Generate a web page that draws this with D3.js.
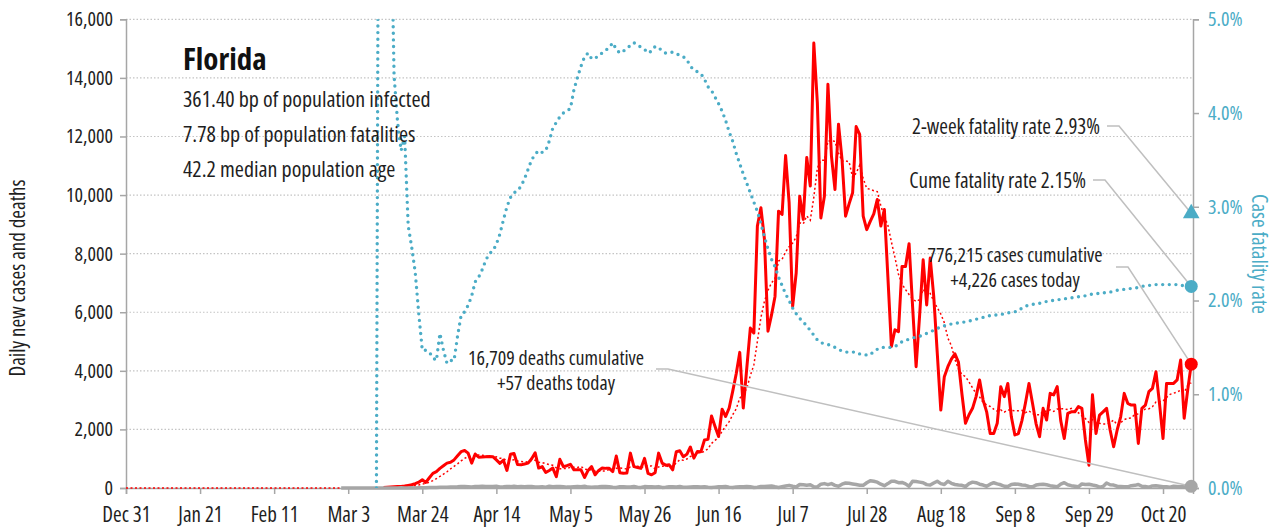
<!DOCTYPE html>
<html>
<head>
<meta charset="utf-8">
<script src="https://cdn.jsdelivr.net/npm/d3@7"></script>
<style>
  body { margin: 0; background: #fff; }
  svg { display: block; }
  svg text { font-family: "Open Sans", "Roboto", sans-serif; font-stretch: condensed; }
</style>
</head>
<body>
<svg id="chart" width="1278" height="527"></svg>
<script>
// ---- data ----
const firstDay = new Date(2019, 11, 31);
const lastDay = new Date(2020, 9, 28);

// daily new cases, from Mar 13 2020
const caseStart = new Date(2020, 2, 13);
const cases = [
  16, 22, 30, 40, 50, 55, 70, 90,
  110, 150, 200, 280, 190, 350, 500, 560, 670, 760,
  850, 880, 960, 1100, 1240, 1280, 1190, 850, 1160, 1050,
  1060, 1070, 1075, 1070, 960, 840, 950, 600, 1150, 1180,
  800, 790, 820, 850, 1000, 1200, 680, 730, 530, 600,
  680, 390, 980, 730, 760, 810, 620, 620, 620, 360,
  600, 730, 450, 600, 680, 670, 670, 560, 1090, 520,
  500, 510, 1190, 730, 700, 670, 1010, 500, 450, 520,
  1190, 850, 780, 790, 620, 1240, 1270, 1070, 1150, 1400,
  1020, 1250, 1240, 1640, 1660, 2460, 2100, 1760, 2690, 2440,
  2730, 3300, 3900, 4630, 2730, 4100, 5460, 5290, 8940, 9570,
  8500, 5350, 5900, 6540, 9450, 9340, 11350, 9740, 6200, 7340,
  9960, 9170, 11280, 10310, 15190, 13160, 9220, 9960, 13780, 11330,
  10190, 12420, 11220, 9280, 9700, 10080, 12340, 12070, 9280, 8820,
  9100, 9360, 9850, 8940, 9510, 7200, 4830, 5400, 5340, 7560,
  7560, 8340, 6200, 4140, 5900, 7790, 6250, 7850, 6540, 4600,
  2660, 3800, 4140, 4400, 4580, 4300, 3200, 2210, 2500, 2720,
  3120, 3690, 3000, 2600, 1860, 1860, 2210, 3460, 3120, 3570,
  2430, 1810, 1860, 2300, 2900, 3570, 2890, 2200, 1750, 2720,
  2320, 3230, 3180, 3460, 2300, 1690, 2550, 2600, 2600, 2780,
  2720, 1640, 780, 3180, 1860, 2490, 2600, 2720, 1980, 1410,
  1980, 2430, 3230, 2890, 2830, 2830, 1520, 2720, 2830, 3290,
  3400, 3970, 2890, 1690, 3570, 3570, 3570, 3690, 4370, 2380,
  3350, 4226
];

// daily deaths, from Mar 1 2020
const deathStart = new Date(2020, 2, 1);
const deaths = [
  0, 0, 0, 0, 0, 2, 0, 0, 0, 0,
  1, 2, 1, 3, 2, 0, 4, 5, 3, 4,
  8, 4, 10, 7, 12, 14, 18, 20, 22, 25,
  27, 30, 35, 40, 48, 52, 45, 38, 55, 50,
  60, 50, 48, 55, 58, 38, 40, 52, 47, 60,
  45, 52, 40, 55, 50, 38, 35, 40, 30, 60,
  45, 48, 52, 40, 30, 36, 42, 50, 45, 60,
  30, 25, 38, 40, 55, 48, 41, 28, 20, 44,
  46, 37, 38, 50, 25, 20, 48, 42, 45, 38,
  47, 20, 25, 45, 41, 36, 49, 28, 25, 35,
  40, 42, 38, 46, 25, 15, 30, 45, 40, 48,
  30, 20, 35, 40, 44, 50, 45, 20, 25, 50,
  48, 60, 68, 40, 20, 45, 70, 90, 60, 35,
  120, 110, 95, 110, 45, 35, 130, 150, 115, 150,
  90, 60, 130, 170, 160, 140, 120, 95, 90, 180,
  250, 230, 200, 130, 80, 150, 230, 230, 180, 190,
  140, 60, 230, 220, 200, 180, 115, 100, 170, 230,
  150, 120, 230, 160, 120, 100, 90, 50, 150, 200,
  180, 130, 100, 60, 130, 180, 140, 110, 60, 50,
  120, 140, 130, 100, 90, 50, 40, 100, 120, 130,
  110, 80, 60, 40, 130, 180, 110, 80, 60, 40,
  140, 120, 130, 100, 80, 30, 50, 170, 110, 100,
  60, 50, 40, 40, 80, 90, 120, 60, 50, 30,
  70, 80, 60, 40, 45, 30, 60, 50, 40, 60,
  90, 57
];

// cumulative case fatality rate (%), from Mar 11 2020
const rateStart = new Date(2020, 2, 11);
const rates = [
  0, 12, 10, 8, 6.5, 4.4, 3.9, 3.6, 3.75, 2.8,
  2.57, 2.3, 1.86, 1.47, 1.47, 1.45, 1.39, 1.36, 1.65, 1.47,
  1.33, 1.36, 1.36, 1.62, 1.84, 1.88, 1.95, 2.05, 2.2, 2.25,
  2.33, 2.43, 2.5, 2.53, 2.6, 2.71, 2.86, 3.0, 3.1, 3.15,
  3.17, 3.22, 3.3, 3.4, 3.5, 3.56, 3.6, 3.58, 3.6, 3.7,
  3.84, 3.9, 3.96, 4.0, 4.02, 4.05, 4.25, 4.38, 4.5, 4.6,
  4.64, 4.58, 4.58, 4.62, 4.64, 4.67, 4.7, 4.75, 4.68, 4.64,
  4.66, 4.69, 4.72, 4.75, 4.73, 4.7, 4.68, 4.64, 4.66, 4.71,
  4.7, 4.66, 4.64, 4.64, 4.65, 4.63, 4.62, 4.6, 4.57, 4.5,
  4.46, 4.44, 4.42, 4.36, 4.28, 4.24, 4.17, 4.1, 4.02, 3.92,
  3.8, 3.7, 3.57, 3.46, 3.35, 3.25, 3.15, 3.05, 2.95, 2.82,
  2.68, 2.55, 2.44, 2.36, 2.25, 2.16, 2.07, 2.0, 1.92, 1.86,
  1.81, 1.77, 1.73, 1.68, 1.63, 1.58, 1.55, 1.54, 1.53, 1.52,
  1.5, 1.48, 1.46, 1.45, 1.45, 1.45, 1.45, 1.43, 1.42, 1.42,
  1.42, 1.46, 1.48, 1.5, 1.5, 1.5, 1.5, 1.51, 1.53, 1.56,
  1.57, 1.59, 1.6, 1.61, 1.62, 1.63, 1.65, 1.67, 1.68, 1.7,
  1.72, 1.73, 1.74, 1.75, 1.76, 1.76, 1.77, 1.77, 1.78, 1.79,
  1.8, 1.81, 1.82, 1.83, 1.84, 1.84, 1.85, 1.85, 1.86, 1.87,
  1.87, 1.88, 1.89, 1.92, 1.94, 1.95, 1.96, 1.96, 1.97, 1.98,
  1.99, 2.0, 2.0, 2.01, 2.01, 2.02, 2.02, 2.03, 2.03, 2.04,
  2.05, 2.05, 2.06, 2.07, 2.07, 2.08, 2.08, 2.09, 2.09, 2.1,
  2.11, 2.11, 2.12, 2.12, 2.13, 2.13, 2.14, 2.15, 2.16, 2.16,
  2.17, 2.17, 2.17, 2.17, 2.17, 2.17, 2.17, 2.17, 2.16, 2.16,
  2.15, 2.15
];

const twoWeekRate = 2.93;
const yTicks = [0, 2000, 4000, 6000, 8000, 10000, 12000, 14000, 16000];
const rateTicks = [0, 1, 2, 3, 4, 5];
const xTickDates = ["2019-12-31", "2020-01-21", "2020-02-11", "2020-03-03", "2020-03-24",
  "2020-04-14", "2020-05-05", "2020-05-26", "2020-06-16", "2020-07-07", "2020-07-28",
  "2020-08-18", "2020-09-08", "2020-09-29", "2020-10-20"];

const stateName = "Florida";
const infoLines = ["361.40 bp of population infected", "7.78 bp of population fatalities", "42.2 median population age"];
const caseNote = ["776,215 cases cumulative", "+4,226 cases today"];
const deathNote = ["16,709 deaths cumulative", "+57 deaths today"];
const cumeNote = "Cume fatality rate 2.15%";
const twoWeekNote = "2-week fatality rate 2.93%";

// ---- layout ----
const plotL = 126, plotR = 1193, plotT = 19.3, plotB = 488;
const red = "#ff0000", teal = "#4bacc6", grey = "#a6a6a6", ink = "#1e1e1e";

const svg = d3.select("#chart");
const parse = d3.timeParse("%Y-%m-%d");
const dayOf = (start, i) => d3.timeDay.offset(start, i);

const x = d3.scaleTime()
  .domain([firstDay, d3.timeHour.offset(lastDay, 12)])
  .range([plotL, plotR]);
const y = d3.scaleLinear().domain([0, 16000]).range([plotB, plotT]);
const yR = d3.scaleLinear().domain([0, 5]).range([plotB, plotT]);

const caseData = cases.map((v, i) => ({ date: dayOf(caseStart, i), v }));
const deathData = deaths.map((v, i) => ({ date: dayOf(deathStart, i), v }));
const rateData = rates.map((v, i) => ({ date: dayOf(rateStart, i), v }));

// trailing 7-day mean of the daily cases above (zero before the first case)
const caseOn = d => {
  const i = d3.timeDay.count(caseStart, d);
  return i >= 0 && i < cases.length ? cases[i] : 0;
};
const avgData = d3.timeDay.range(firstDay, d3.timeDay.offset(lastDay, 1)).map(d => ({
  date: d,
  v: d3.mean(d3.range(7), k => caseOn(d3.timeDay.offset(d, -k)))
}));

svg.append("defs").append("clipPath").attr("id", "plot")
  .append("rect").attr("x", plotL).attr("y", plotT).attr("width", plotR - plotL).attr("height", plotB - plotT);

// grid
svg.append("g")
  .selectAll("line")
  .data(yTicks.filter(t => t > 0))
  .join("line")
  .attr("x1", plotL).attr("x2", plotR)
  .attr("y1", d => y(d)).attr("y2", d => y(d))
  .attr("stroke", "#c4c4c4").attr("stroke-width", 1.2)
  .attr("stroke-dasharray", "1.5 2");

// axes
const yAxis = svg.append("g")
  .attr("transform", `translate(${plotL},0)`)
  .call(d3.axisLeft(y).tickValues(yTicks).tickFormat(d3.format(",")).tickSize(6).tickPadding(7));
const rAxis = svg.append("g")
  .attr("transform", `translate(${plotR},0)`)
  .call(d3.axisRight(yR).tickValues(rateTicks).tickFormat(d => d.toFixed(1) + "%").tickSize(6).tickPadding(9));
const xAxis = svg.append("g")
  .attr("transform", `translate(0,${plotB})`)
  .call(d3.axisBottom(x).tickValues(xTickDates.map(parse)).tickFormat(d3.timeFormat("%b %-d")).tickSize(6).tickPadding(13));

[yAxis, rAxis, xAxis].forEach(g => {
  g.select(".domain").attr("stroke", grey).attr("stroke-width", 1.5);
  g.selectAll(".tick line").attr("stroke", grey).attr("stroke-width", 1.5);
  g.selectAll("text").attr("font-size", 20).attr("fill", ink);
});
xAxis.selectAll("text").attr("font-size", 21);
rAxis.selectAll("text").attr("fill", teal);

// axis titles
svg.append("text")
  .attr("transform", "translate(25,278) rotate(-90)")
  .attr("text-anchor", "middle").attr("font-size", 21).attr("fill", ink)
  .text("Daily new cases and deaths");
svg.append("text")
  .attr("transform", "translate(1252,254) rotate(90)")
  .attr("text-anchor", "middle").attr("font-size", 21).attr("fill", teal)
  .text("Case fatality rate");

const line = sc => d3.line().x(d => x(d.date)).y(d => sc(d.v));

// 7-day average (dotted red)
svg.append("path").datum(avgData)
  .attr("d", line(y)).attr("fill", "none")
  .attr("stroke", red).attr("stroke-width", 1.5).attr("stroke-dasharray", "2 2.5");

// daily cases
svg.append("path").datum(caseData)
  .attr("d", line(y)).attr("fill", "none")
  .attr("stroke", red).attr("stroke-width", 3).attr("stroke-linejoin", "round");

// daily deaths
svg.append("path").datum(deathData)
  .attr("d", line(y)).attr("fill", "none")
  .attr("stroke", grey).attr("stroke-width", 3.5).attr("stroke-linejoin", "round");

// fatality rate (dotted teal, right axis)
svg.append("path").datum(rateData)
  .attr("clip-path", "url(#plot)")
  .attr("d", line(yR)).attr("fill", "none")
  .attr("stroke", teal).attr("stroke-width", 3.4)
  .attr("stroke-linecap", "round").attr("stroke-dasharray", "0 6.6");

// info block
svg.append("text").attr("x", 183).attr("y", 70)
  .attr("font-size", 31).attr("font-weight", "bold").attr("fill", "#111")
  .text(stateName);
svg.append("g").selectAll("text").data(infoLines).join("text")
  .attr("x", 183).attr("y", (d, i) => 107 + i * 35)
  .attr("font-size", 22).attr("fill", ink)
  .text(d => d);

// call-outs with leader lines to the last values
const xEnd = x(lastDay);
const leader = (x0, y0, x1, y1) => `M${x0},${y0}H${x0 + 12}L${x1},${y1}`;
const callouts = [
  { lines: [twoWeekNote], x: 1100, y: 134, anchor: "end", from: [1107, 126], to: yR(twoWeekRate) },
  { lines: [cumeNote], x: 1086, y: 188, anchor: "end", from: [1093, 180], to: yR(rates[rates.length - 1]) },
  { lines: caseNote, x: 1015, y: 262, anchor: "middle", from: [1116, 267], to: y(cases[cases.length - 1]) },
  { lines: deathNote, x: 556, y: 365, anchor: "middle", from: [656, 369], to: y(deaths[deaths.length - 1]) }
];
callouts.forEach(c => {
  svg.append("path")
    .attr("d", leader(c.from[0], c.from[1], xEnd, c.to))
    .attr("fill", "none").attr("stroke", "#bfbfbf").attr("stroke-width", 1.5);
  c.lines.forEach((t, i) => {
    svg.append("text").attr("x", c.x).attr("y", c.y + i * 25)
      .attr("text-anchor", c.anchor).attr("font-size", c.lines.length > 1 ? 20 : 21).attr("fill", ink)
      .text(t);
  });
});

// end markers
svg.append("path")
  .attr("d", d3.symbol(d3.symbolTriangle, 120)())
  .attr("transform", `translate(${xEnd},${yR(twoWeekRate)})`)
  .attr("fill", teal);
const ends = [
  { v: yR(rates[rates.length - 1]), c: teal },
  { v: y(cases[cases.length - 1]), c: red },
  { v: y(deaths[deaths.length - 1]), c: grey }
];
svg.append("g").selectAll("circle").data(ends).join("circle")
  .attr("cx", xEnd).attr("cy", d => d.v).attr("r", 6.5)
  .attr("fill", d => d.c);
</script>
</body>
</html>
